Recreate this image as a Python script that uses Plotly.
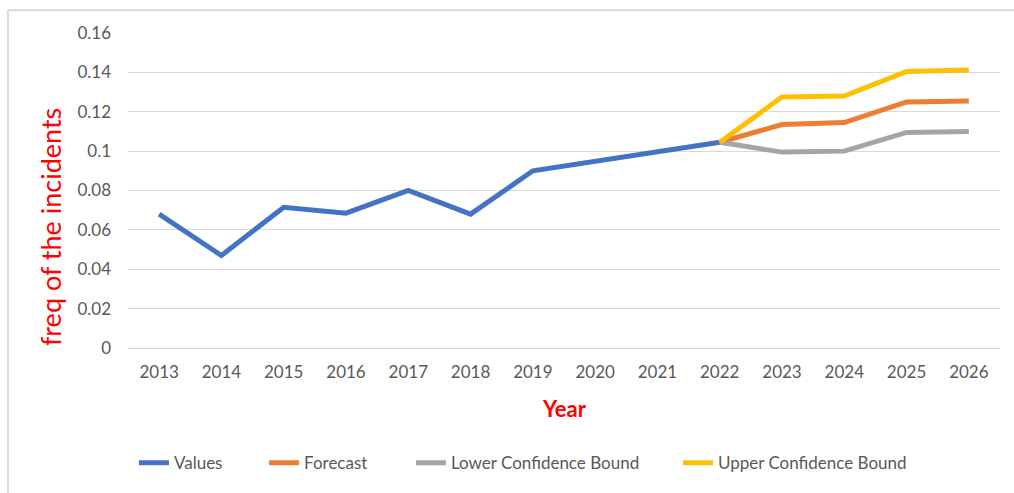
import plotly.graph_objects as go

years = [str(y) for y in range(2013, 2027)]
values = [0.068, 0.047, 0.0715, 0.0685, 0.080, 0.068, 0.090, 0.095, 0.100, 0.1045,
          None, None, None, None]
forecast = [None] * 9 + [0.1045, 0.1135, 0.1145, 0.125, 0.1255]
lower = [None] * 9 + [0.1045, 0.0995, 0.100, 0.1095, 0.110]
upper = [None] * 9 + [0.1045, 0.1275, 0.128, 0.1405, 0.1412]

y_ticks = [0, 0.02, 0.04, 0.06, 0.08, 0.1, 0.12, 0.14, 0.16]
y_ticktext = ["0", "0.02", "0.04", "0.06", "0.08", "0.1", "0.12", "0.14", "0.16"]

# name, data, colour, legend id, legend x (paper)
series = [
    ("Values", values, "#4472C4", "legend", 0.0068),
    ("Forecast", forecast, "#ED7D31", "legend2", 0.1560),
    ("Lower Confidence Bound", lower, "#A5A5A5", "legend3", 0.3245),
    ("Upper Confidence Bound", upper, "#FFC000", "legend4", 0.6307),
]

fig = go.Figure()
for name, ys, color, leg, _ in series:
    fig.add_trace(go.Scatter(
        x=years, y=ys, name=name, mode="lines",
        line=dict(color=color, width=5),
        connectgaps=False, legend=leg,
    ))

legends = {}
for name, ys, color, leg, lx in series:
    legends[leg] = dict(
        orientation="h", x=lx, xanchor="left",
        y=-0.366, yanchor="middle",
        font=dict(size=17, color="#595959"),
        bgcolor="rgba(0,0,0,0)",
    )

fig.update_layout(
    width=1014, height=493,
    paper_bgcolor="white", plot_bgcolor="white",
    margin=dict(l=128, r=14, t=33, b=143),
    font=dict(family="Lato, Open Sans, sans-serif", color="#595959", size=17),
    xaxis=dict(
        type="category",
        range=[-0.5, 13.5],
        showgrid=False,
        showline=False,
        ticks="",
        ticklabelstandoff=12,
        tickfont=dict(size=17, color="#595959"),
    ),
    yaxis=dict(
        range=[0, 0.16],
        tickvals=y_ticks, ticktext=y_ticktext,
        showgrid=True, gridcolor="#D9D9D9", gridwidth=1,
        zeroline=True, zerolinecolor="#D9D9D9", zerolinewidth=1,
        showline=False, ticks="",
        ticklabelstandoff=16,
        tickfont=dict(size=17, color="#595959"),
    ),
    showlegend=True,
    annotations=[
        dict(text="<b>Year</b>", xref="paper", yref="paper",
             x=0.5, y=-0.193, xanchor="center", yanchor="middle",
             showarrow=False, font=dict(size=22, color="#FF0000")),
        dict(text="freq of the incidents", xref="paper", yref="paper",
             x=-0.089, y=0.385, xanchor="center", yanchor="middle",
             textangle=-90, showarrow=False,
             font=dict(size=27, color="#FF0000")),
    ],
    shapes=[
        dict(type="line", xref="paper", yref="paper",
             x0=-0.1376, x1=1.02, y0=1.0726, y1=1.0726,
             line=dict(color="#D9D9D9", width=2)),
        dict(type="line", xref="paper", yref="paper",
             x0=-0.1376, x1=-0.1376, y0=1.0726, y1=-0.46,
             line=dict(color="#D9D9D9", width=2)),
    ],
    **legends,
)

fig.write_html("out.html", config={"displayModeBar": False},
               post_script="document.body.style.margin='0';")
